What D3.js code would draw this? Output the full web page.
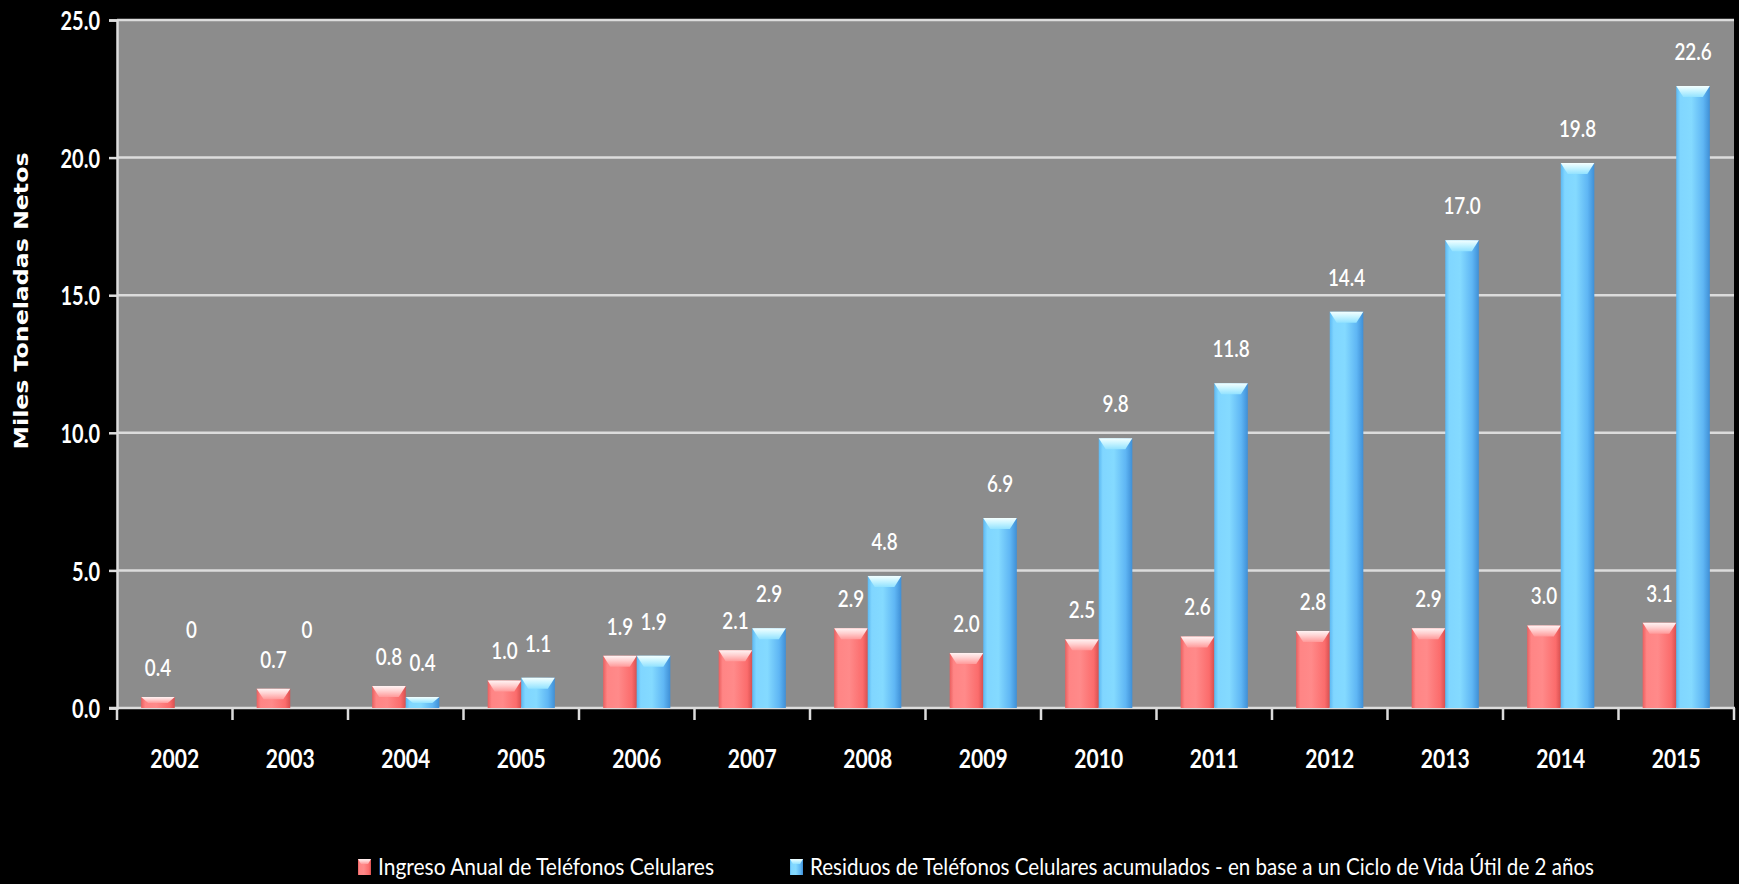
<!DOCTYPE html>
<html>
<head>
<meta charset="utf-8">
<script src="https://cdn.jsdelivr.net/npm/d3@7"></script>
<style>
  html, body { margin: 0; padding: 0; background: #000; }
  svg { display: block; }
</style>
</head>
<body>
<svg id="chart" width="1739" height="884"></svg>
<script>
// ---- data ----
const years = ["2002","2003","2004","2005","2006","2007","2008","2009","2010","2011","2012","2013","2014","2015"];
const ingresoAnual = [0.4, 0.7, 0.8, 1.0, 1.9, 2.1, 2.9, 2.0, 2.5, 2.6, 2.8, 2.9, 3.0, 3.1];
const residuosAcum = [0, 0, 0.4, 1.1, 1.9, 2.9, 4.8, 6.9, 9.8, 11.8, 14.4, 17.0, 19.8, 22.6];
const yTicks = [0, 5, 10, 15, 20, 25];
const seriesNames = ["Ingreso Anual de Teléfonos Celulares",
                     "Residuos de Teléfonos Celulares acumulados - en base a un Ciclo de Vida Útil de 2 años"];
const yLabel = "Miles Toneladas Netos";

// ---- layout ----
const svg = d3.select("#chart");
const plot = { left: 117, right: 1734, top: 20, bottom: 708 };
const numFont = "Lato, 'Open Sans', 'Liberation Sans', sans-serif";

// squeeze text horizontally (the original uses a condensed face)
function condense(sel, f) {
  sel.each(function () {
    const w = this.getComputedTextLength();
    this.setAttribute("textLength", (w * f).toFixed(1));
    this.setAttribute("lengthAdjust", "spacingAndGlyphs");
  });
}

const x = d3.scaleBand().domain(years).range([plot.left, plot.right]).paddingInner(0).paddingOuter(0);
const xs = d3.scaleBand().domain(["a","b"]).range([0, x.bandwidth()]).paddingInner(0).paddingOuter(0.72);
const y = d3.scaleLinear().domain([0, 25]).range([plot.bottom, plot.top]);

// gradients
const defs = svg.append("defs");
function hGrad(id, stops) {
  const g = defs.append("linearGradient").attr("id", id).attr("x1","0").attr("x2","1").attr("y1","0").attr("y2","0");
  stops.forEach(s => g.append("stop").attr("offset", s[0]).attr("stop-color", s[1]));
}
hGrad("redBody", [["0%","#ea5f5f"],["12%","#ff8585"],["45%","#ff8a8a"],["85%","#fb6c6c"],["100%","#d85050"]]);
hGrad("blueBody", [["0%","#5cb8f2"],["12%","#80d6ff"],["45%","#84daff"],["80%","#5fb6f4"],["100%","#3f8fd6"]]);
function vGrad(id, stops) {
  const g = defs.append("linearGradient").attr("id", id).attr("x1","0").attr("x2","0").attr("y1","0").attr("y2","1");
  stops.forEach(s => g.append("stop").attr("offset", s[0]).attr("stop-color", s[1]));
}
vGrad("redTop", [["0%","#fff4f4"],["45%","#ffd0d0"],["100%","#ff9a9a"]]);
vGrad("blueTop", [["0%","#f4ffff"],["45%","#c8f4ff"],["100%","#92e2ff"]]);

// plot background
svg.append("rect").attr("x", plot.left).attr("y", plot.top)
  .attr("width", plot.right - plot.left).attr("height", plot.bottom - plot.top)
  .attr("fill", "#8c8c8c");

// gridlines
svg.append("g").selectAll("line").data(yTicks.filter(d => d > 0)).join("line")
  .attr("x1", plot.left).attr("x2", plot.right)
  .attr("y1", d => y(d)).attr("y2", d => y(d))
  .attr("stroke", "#dcdcdc").attr("stroke-width", 2.5);

// y axis
const yAxis = svg.append("g").attr("transform", `translate(${plot.left},0)`)
  .call(d3.axisLeft(y).tickValues(yTicks).tickFormat(d3.format(".1f")).tickSize(8).tickPadding(9));
yAxis.select(".domain").attr("stroke", "#dcdcdc").attr("stroke-width", 2.5);
yAxis.selectAll(".tick line").attr("stroke", "#dcdcdc").attr("stroke-width", 2.5);
yAxis.selectAll(".tick text").attr("fill", "#fff").attr("font-family", numFont)
  .attr("font-weight", "bold").attr("font-size", 27).attr("dy", "0.36em")
  .call(condense, 0.74);

// x axis: ticks at category boundaries
const bounds = years.map(d => x(d)).concat([plot.right]);
svg.append("g").selectAll("line").data(bounds).join("line")
  .attr("x1", d => d).attr("x2", d => d).attr("y1", plot.bottom).attr("y2", plot.bottom + 12)
  .attr("stroke", "#dcdcdc").attr("stroke-width", 2.5);
svg.append("line").attr("x1", plot.left - 8).attr("x2", plot.right + 1)
  .attr("y1", plot.bottom).attr("y2", plot.bottom)
  .attr("stroke", "#dcdcdc").attr("stroke-width", 2.5);
svg.append("g").selectAll("text").data(years).join("text")
  .attr("x", d => x(d) + x.bandwidth() / 2).attr("y", 768)
  .attr("text-anchor", "middle").attr("fill", "#fff")
  .attr("font-family", numFont).attr("font-weight", "bold").attr("font-size", 27)
  .text(d => d)
  .call(condense, 0.78);

// bars
const series = [
  { key: "a", values: ingresoAnual, body: "url(#redBody)", top: "url(#redTop)", labelOff: 21 },
  { key: "b", values: residuosAcum, body: "url(#blueBody)", top: "url(#blueTop)", labelOff: 26 }
];
const barsG = svg.append("g");
series.forEach(s => {
  const w = xs.bandwidth();
  const g = barsG.append("g");
  const data = years.map((yr, i) => ({ yr, v: s.values[i] }));
  g.selectAll("rect").data(data.filter(d => d.v > 0)).join("rect")
    .attr("x", d => x(d.yr) + xs(s.key)).attr("width", w)
    .attr("y", d => y(d.v)).attr("height", d => y(0) - y(d.v))
    .attr("fill", s.body);
  // top bevel
  g.selectAll("path").data(data.filter(d => d.v > 0)).join("path")
    .attr("d", d => {
      const x0 = x(d.yr) + xs(s.key), x1 = x0 + w, t = y(d.v);
      const h = Math.min(11, (y(0) - t) * 0.55), inset = 7;
      return `M${x0},${t}L${x1},${t}L${x1 - inset},${t + h}L${x0 + inset},${t + h}Z`;
    })
    .attr("fill", s.top);
  // labels
  g.selectAll("text").data(data).join("text")
    .attr("x", d => x(d.yr) + xs(s.key) + w / 2)
    .attr("y", d => d.v === 0 ? y(0) - 70 : y(d.v) - s.labelOff)
    .attr("text-anchor", "middle").attr("fill", "#fff")
    .attr("font-family", numFont).attr("font-weight", "600").attr("font-size", 23)
    .text(d => d.v === 0 ? "0" : d3.format(".1f")(d.v))
    .call(condense, 0.82);
});

// y axis title
svg.append("text")
  .attr("transform", "translate(28,301) rotate(-90)")
  .attr("text-anchor", "middle").attr("fill", "#fff")
  .attr("font-family", "'DejaVu Sans', Verdana, sans-serif").attr("font-weight", "bold").attr("font-size", 19)
  .attr("textLength", 297).attr("lengthAdjust", "spacingAndGlyphs")
  .text(yLabel);

// legend
const legend = [
  { name: seriesNames[0], sx: 358, tx: 378, tl: 336, fill: "url(#redBody)", top: "url(#redTop)" },
  { name: seriesNames[1], sx: 790, tx: 810, tl: 784, fill: "url(#blueBody)", top: "url(#blueTop)" }
];
const lg = svg.append("g");
legend.forEach(l => {
  lg.append("rect").attr("x", l.sx).attr("y", 859).attr("width", 13).attr("height", 16).attr("fill", l.fill);
  lg.append("path").attr("d", `M${l.sx},859L${l.sx+13},859L${l.sx+10},864L${l.sx+3},864Z`).attr("fill", l.top);
  lg.append("text").attr("x", l.tx).attr("y", 875).attr("fill", "#fff")
    .attr("font-family", numFont).attr("font-size", 24)
    .attr("textLength", l.tl).attr("lengthAdjust", "spacingAndGlyphs")
    .text(l.name);
});
</script>
</body>
</html>
